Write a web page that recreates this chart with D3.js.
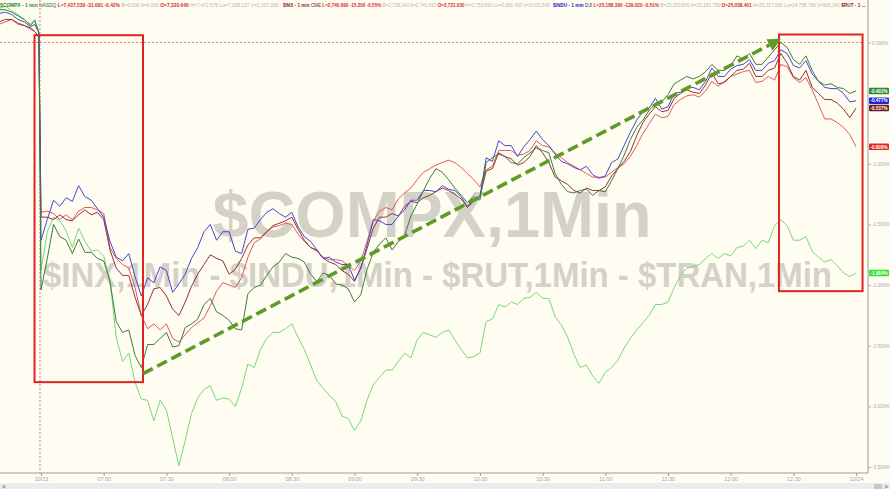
<!DOCTYPE html>
<html><head><meta charset="utf-8">
<script src="https://cdn.jsdelivr.net/npm/d3@7"></script>
<style>
html,body{margin:0;padding:0;background:#fffcf2;}
svg{display:block;font-family:"Liberation Sans",Arial,sans-serif;}
</style></head><body>
<svg id="c" width="890" height="489"></svg>
<script>
// ---- time axis (minutes from the 06:30 open; negatives = prior session's last minutes)
const prevMinutes = [-20,-17,-14,-11,-8,-5,-3,-1];
const sessionMinutes = d3.range(0, 391, 3); // one sample every 3 minutes, 06:30 .. 13:00

// ---- % change vs previous close
const compxPrev = [0.27,0.27,0.25,0.22,0.19,0.14,0.18,0.08];
const induPrev  = [0.24,0.25,0.23,0.19,0.17,0.13,0.15,0.08];
const inxPrev   = [0.17,0.19,0.19,0.16,0.14,0.12,0.09,0.05];
const tranPrev  = [0.15,0.17,0.19,0.15,0.14,0.11,0.09,0.05];
const rutPrev   = [0.28,0.30,0.26,0.23,0.19,0.15,0.19,0.09];

const compx = [-2.04,-1.78,-1.50,-1.60,-1.63,-1.74,-1.62,-1.73,-1.73,-1.78,
 -1.80,-1.97,-2.30,-2.39,-2.37,-2.58,-2.68,-2.49,-2.49,-2.44,
 -2.39,-2.51,-2.50,-2.35,-2.32,-2.28,-2.16,-2.11,-2.22,-2.25,
 -2.29,-2.36,-2.37,-2.07,-2.02,-2.00,-1.92,-1.85,-1.81,-1.74,
 -1.77,-1.78,-1.81,-1.91,-1.97,-1.90,-1.92,-1.99,-2.00,-2.03,
 -2.14,-2.08,-1.87,-1.73,-1.66,-1.61,-1.71,-1.64,-1.59,-1.43,
 -1.33,-1.22,-1.12,-1.04,-1.07,-1.13,-1.20,-1.26,-1.32,-1.27,
 -1.30,-0.99,-0.95,-0.92,-0.94,-0.99,-1.00,-0.95,-0.91,-0.87,
 -0.89,-0.91,-1.08,-1.17,-1.23,-1.24,-1.22,-1.21,-1.26,-1.22,
 -1.23,-1.14,-1.04,-0.93,-0.80,-0.70,-0.64,-0.56,-0.50,-0.49,
 -0.43,-0.34,-0.31,-0.28,-0.30,-0.28,-0.24,-0.18,-0.23,-0.23,
 -0.19,-0.11,-0.14,-0.09,-0.18,-0.18,-0.12,-0.06,0.00,-0.04,
 -0.14,-0.18,-0.11,-0.23,-0.32,-0.35,-0.34,-0.37,-0.38,-0.42,
 -0.40];

const indu = [-1.63,-1.46,-1.30,-1.35,-1.28,-1.31,-1.18,-1.27,-1.30,-1.37,
 -1.44,-1.64,-1.77,-1.80,-1.74,-1.93,-2.09,-1.94,-1.98,-1.85,
 -1.88,-2.06,-1.99,-1.91,-1.78,-1.69,-1.56,-1.50,-1.63,-1.56,
 -1.56,-1.72,-1.74,-1.54,-1.53,-1.46,-1.40,-1.37,-1.41,-1.44,
 -1.40,-1.52,-1.60,-1.64,-1.71,-1.78,-1.77,-1.81,-1.83,-1.83,
 -1.96,-1.86,-1.67,-1.46,-1.47,-1.50,-1.50,-1.43,-1.38,-1.30,
 -1.30,-1.22,-1.22,-1.23,-1.18,-1.21,-1.22,-1.27,-1.35,-1.30,
 -1.27,-0.95,-0.98,-0.81,-0.85,-0.85,-0.94,-0.86,-0.80,-0.73,
 -0.80,-0.85,-0.92,-0.98,-1.00,-1.03,-1.05,-1.02,-1.09,-1.12,
 -1.10,-0.99,-0.96,-0.85,-0.74,-0.64,-0.57,-0.54,-0.46,-0.55,
 -0.53,-0.42,-0.41,-0.37,-0.37,-0.39,-0.32,-0.21,-0.28,-0.28,
 -0.22,-0.19,-0.18,-0.14,-0.23,-0.23,-0.17,-0.15,-0.06,-0.09,
 -0.19,-0.21,-0.15,-0.26,-0.32,-0.37,-0.38,-0.38,-0.42,-0.49,
 -0.48];

const inx = [-1.44,-1.44,-1.46,-1.42,-1.46,-1.47,-1.42,-1.38,-1.42,-1.40,
 -1.46,-1.71,-1.86,-1.92,-1.92,-2.10,-2.25,-2.16,-2.03,-2.02,
 -2.09,-2.20,-2.25,-2.14,-2.01,-1.91,-1.83,-1.75,-1.78,-1.80,
 -1.91,-1.87,-1.78,-1.67,-1.61,-1.61,-1.56,-1.51,-1.49,-1.47,
 -1.44,-1.54,-1.63,-1.69,-1.71,-1.78,-1.81,-1.83,-1.88,-1.91,
 -1.97,-1.86,-1.70,-1.53,-1.44,-1.44,-1.41,-1.43,-1.35,-1.31,
 -1.32,-1.28,-1.26,-1.23,-1.20,-1.22,-1.25,-1.29,-1.36,-1.31,
 -1.27,-1.06,-1.04,-0.91,-0.94,-0.96,-1.01,-0.99,-0.94,-0.85,
 -0.91,-0.99,-1.11,-1.14,-1.17,-1.22,-1.24,-1.20,-1.22,-1.22,
 -1.19,-1.10,-1.04,-0.98,-0.90,-0.77,-0.66,-0.59,-0.53,-0.57,
 -0.56,-0.46,-0.42,-0.39,-0.41,-0.42,-0.35,-0.25,-0.34,-0.33,
 -0.28,-0.23,-0.22,-0.17,-0.28,-0.28,-0.23,-0.21,-0.09,-0.17,
 -0.28,-0.31,-0.23,-0.37,-0.42,-0.47,-0.47,-0.50,-0.55,-0.62,
 -0.54];

const tran = [-1.40,-1.39,-1.41,-1.46,-1.42,-1.46,-1.39,-1.36,-1.36,-1.38,
 -1.41,-1.69,-1.78,-1.83,-1.86,-2.02,-2.25,-2.36,-2.32,-2.37,
 -2.32,-2.44,-2.47,-2.41,-2.35,-2.31,-2.27,-2.17,-2.05,-1.98,
 -2.00,-2.02,-1.94,-1.77,-1.65,-1.62,-1.56,-1.52,-1.51,-1.49,
 -1.50,-1.58,-1.64,-1.69,-1.72,-1.77,-1.79,-1.79,-1.80,-1.84,
 -1.88,-1.80,-1.64,-1.47,-1.39,-1.36,-1.38,-1.29,-1.24,-1.20,
 -1.13,-1.07,-1.04,-1.01,-0.99,-0.97,-0.99,-1.03,-1.08,-1.13,
 -1.19,-1.05,-1.02,-0.89,-0.89,-0.89,-0.93,-0.92,-0.89,-0.81,
 -0.85,-0.86,-0.91,-0.95,-0.99,-1.02,-1.05,-1.08,-1.11,-1.11,
 -1.11,-1.07,-1.03,-1.00,-0.94,-0.85,-0.75,-0.67,-0.59,-0.62,
 -0.61,-0.51,-0.47,-0.44,-0.43,-0.45,-0.40,-0.32,-0.36,-0.32,
 -0.28,-0.26,-0.24,-0.23,-0.33,-0.32,-0.28,-0.31,-0.18,-0.20,
 -0.29,-0.33,-0.29,-0.39,-0.51,-0.63,-0.63,-0.66,-0.70,-0.76,
 -0.86];

const rut = [-1.88,-1.56,-1.44,-1.47,-1.55,-1.69,-1.53,-1.64,-1.72,-1.71,
 -1.76,-1.96,-2.43,-2.63,-2.56,-2.80,-2.94,-2.95,-3.12,-2.95,
 -3.03,-3.26,-3.49,-3.28,-3.06,-2.93,-2.86,-2.83,-2.95,-2.93,
 -2.94,-3.00,-2.85,-2.65,-2.68,-2.53,-2.44,-2.39,-2.39,-2.36,
 -2.32,-2.43,-2.53,-2.66,-2.79,-2.85,-2.91,-2.96,-3.08,-3.10,
 -3.20,-3.12,-2.95,-2.82,-2.76,-2.70,-2.70,-2.63,-2.56,-2.60,
 -2.45,-2.39,-2.41,-2.43,-2.39,-2.37,-2.45,-2.53,-2.60,-2.59,
 -2.56,-2.30,-2.28,-2.16,-2.18,-2.14,-2.16,-2.11,-2.10,-2.06,
 -2.11,-2.11,-2.26,-2.33,-2.43,-2.57,-2.68,-2.66,-2.75,-2.81,
 -2.72,-2.68,-2.62,-2.52,-2.44,-2.37,-2.31,-2.25,-2.16,-2.16,
 -2.14,-2.02,-1.92,-1.86,-1.85,-1.83,-1.78,-1.74,-1.78,-1.74,
 -1.76,-1.69,-1.68,-1.63,-1.70,-1.63,-1.65,-1.51,-1.46,-1.51,
 -1.63,-1.63,-1.60,-1.72,-1.77,-1.81,-1.79,-1.84,-1.90,-1.93,
 -1.90];

// ---- last-value tags (as printed on the chart)
const lastLabels = ["-1.984%","-0.808%","-0.537%","-0.477%","-0.402%"];

// ---- axis ticks (the -0.500% label is hidden under the value tags in the original)
const xTickMinutes = [0,30,60,90,120,150,180,210,240,270,300,330,360,390];
const xTickLabels = ["10/23","07:00","07:30","08:00","08:30","09:00","09:30","10:00","10:30","11:00","11:30","12:00","12:30","10/24"];
const yTicks = [0,-1,-1.5,-2,-2.5,-3,-3.5];

// ---- annotations (data coordinates: minutes, %)
const leftBox  = {m0:-3.1, m1:48.8, v0:0.06, v1:-2.80};
const rightBox = {m0:353.1, m1:393.1, v0:0.066, v1:-2.05};
const trendArrow = {m0:48.8, v0:-2.73, m1:354.1, v1:0.03};

// ---- header
const headerGroups = [
 [["$COMPX - 1 min ","#1f8f1f",700],["NASDQ ","#3d5a3d",400],["L=7,437.539 -31.091 -0.42% ","#d42b2b",700],["B=0.000 A=0.000 ","#b5b5b5",400],["O=7,320.640 ","#d42b2b",700],["H=7,472.576 Lo=7,268.137 V=2,037,000","#b5b5b5",400]],
 [["$INX - 1 min ","#8a1f1f",700],["CME ","#5a3030",400],["L=2,740.690 -15.200 -0.55% ","#d42b2b",700],["B=2,739.140 A=2,741.610 ","#b5b5b5",400],["O=2,721.030 ","#d42b2b",700],["H=2,753.590 Lo=2,691.430 V=3,000,542","#b5b5b5",400]],
 [["$INDU - 1 min ","#2525c8",700],["DJI ","#30305a",400],["L=25,188.390 -129.020 -0.51% ","#d42b2b",700],["B=25,193.870 A=25,191.790 ","#b5b5b5",400],["O=25,038.401 ","#d42b2b",700],["H=25,327.000 Lo=24,758.789 V=905,341 ","#b5b5b5",400],["$RUT - 1 ...","#8a1f1f",700]]
];

const series = [
 {prev:rutPrev,   vals:rut,   color:"#74dc74", tag:"#35e035", label:lastLabels[0]},
 {prev:tranPrev,  vals:tran,  color:"#e35a5a", tag:"#e32626", label:lastLabels[1]},
 {prev:inxPrev,   vals:inx,   color:"#8e3535", tag:"#6e1c1c", label:lastLabels[2]},
 {prev:induPrev,  vals:indu,  color:"#4646d2", tag:"#2323d6", label:lastLabels[3]},
 {prev:compxPrev, vals:compx, color:"#3c7d3c", tag:"#2f8a2f", label:lastLabels[4]}
];

const W = 890, H = 489, plotR = 868, plotB = 473;
const svg = d3.select("#c");
const x = d3.scaleLinear().domain([-19.62, 395.7]).range([0, plotR]);
const y = d3.scaleLinear().domain([0.3504, -3.549]).range([0, plotB]);

svg.append("rect").attr("width",W).attr("height",H).attr("fill","#fffcf2");

// watermark
svg.append("text").attr("x",432).attr("y",237).attr("text-anchor","middle")
  .attr("font-size",64).attr("font-weight",700).attr("fill","#d4d1c7")
  .attr("textLength",439).attr("lengthAdjust","spacingAndGlyphs").text("$COMPX,1Min");
svg.append("text").attr("x",437.5).attr("y",287).attr("text-anchor","middle")
  .attr("font-size",35).attr("font-weight",700).attr("fill","#d4d1c7")
  .attr("textLength",789).attr("lengthAdjust","spacingAndGlyphs")
  .text("$INX,1Min - $INDU,1Min - $RUT,1Min - $TRAN,1Min");

// reference lines
svg.append("line").attr("x1",0).attr("x2",plotR-4).attr("y1",y(0)).attr("y2",y(0))
  .attr("stroke","#e47a7a").attr("stroke-width",1).attr("stroke-dasharray","2,2");
svg.append("line").attr("x1",x(-0.5)).attr("x2",x(-0.5)).attr("y1",0).attr("y2",plotB)
  .attr("stroke","#c98080").attr("stroke-width",1).attr("stroke-dasharray","2,2");

// series
const line = d3.line().x(d=>x(d.m)).y(d=>y(d.v));
series.forEach(s=>{
  const pts = prevMinutes.map((m,i)=>({m, v:s.prev[i]}))
    .concat(sessionMinutes.map((m,i)=>({m, v:s.vals[i]})));
  svg.append("path").datum(pts).attr("d",line).attr("fill","none")
    .attr("stroke",s.color).attr("stroke-width",1).attr("stroke-linejoin","round");
});

// red boxes
[leftBox,rightBox].forEach(b=>{
  svg.append("rect").attr("x",x(b.m0)).attr("y",y(b.v0))
    .attr("width",x(b.m1)-x(b.m0)).attr("height",y(b.v1)-y(b.v0))
    .attr("fill","none").attr("stroke","#e02323").attr("stroke-width",2);
});

// dashed trend arrow
{
  const ax0=x(trendArrow.m0), ay0=y(trendArrow.v0), ax1=x(trendArrow.m1), ay1=y(trendArrow.v1);
  const dx=ax1-ax0, dy=ay1-ay0, L=Math.hypot(dx,dy), ux=dx/L, uy=dy/L;
  const head=13, hw=6.5;
  const bx=ax1-ux*head, by=ay1-uy*head;
  svg.append("line").attr("x1",ax0).attr("y1",ay0).attr("x2",bx).attr("y2",by)
    .attr("stroke","#5f9a26").attr("stroke-width",3.6).attr("stroke-dasharray","11,5");
  svg.append("polygon").attr("points",[[ax1,ay1],[bx-uy*hw,by+ux*hw],[bx+uy*hw,by-ux*hw]].map(p=>p.join(",")).join(" "))
    .attr("fill","#5f9a26");
}

// axes
const fmt = v => (v<0?"-":"") + Math.abs(v).toFixed(3) + "%";
const yAxis = svg.append("g").attr("transform",`translate(${plotR},0)`)
  .call(d3.axisRight(y).tickValues(yTicks).tickFormat(fmt).tickSize(3).tickSizeOuter(0));
yAxis.select(".domain").attr("stroke","#9a9a9a").attr("d",`M0,0V${plotB}`);
yAxis.selectAll(".tick line").attr("stroke","#b0b0b0");
yAxis.selectAll(".tick text").attr("fill","#ababab").attr("font-size",4.7).attr("x",4);

const xAxis = svg.append("g").attr("transform",`translate(0,${plotB})`)
  .call(d3.axisBottom(x).tickValues(xTickMinutes).tickFormat((d,i)=>xTickLabels[i]).tickSize(3).tickSizeOuter(0));
xAxis.select(".domain").attr("stroke","#9a9a9a").attr("d",`M0,0H${plotR}`);
xAxis.selectAll(".tick line").attr("stroke","#9a9a9a");
xAxis.selectAll(".tick text").attr("fill","#a5a5a5").attr("font-size",5.5).attr("y",4);

// last value tags
series.forEach(s=>{
  const yy = y(s.vals[s.vals.length-1]);
  svg.append("rect").attr("x",plotR+1).attr("y",yy-3.2).attr("width",20).attr("height",6.4)
    .attr("rx",1).attr("fill",s.tag);
  svg.append("text").attr("x",plotR+11).attr("y",yy+1.7).attr("text-anchor","middle")
    .attr("font-size",4.6).attr("font-weight",700).attr("fill","#ffffff").text(s.label);
});

// header: each group sized so its natural width fits its slot
const hdrX = [[0,279],[283,551],[553,866]];
headerGroups.forEach((g,gi)=>{
  const t = svg.append("text").attr("x",hdrX[gi][0]).attr("y",7).attr("font-size",6);
  g.forEach(([txt,col,fw])=>t.append("tspan").attr("fill",col).attr("font-weight",fw).text(txt));
  const w = t.node().getComputedTextLength();
  t.attr("font-size", 6 * (hdrX[gi][1]-hdrX[gi][0]) / w);
});

// bottom scroll band
svg.append("rect").attr("x",0).attr("y",483).attr("width",W).attr("height",6).attr("fill","#ececec");
svg.append("text").attr("x",2).attr("y",489).attr("font-size",7).attr("fill","#555").text("<");
svg.append("rect").attr("x",874).attr("y",484).attr("width",8).attr("height",5).attr("fill","#c8c8c8");
svg.append("text").attr("x",884).attr("y",489).attr("font-size",7).attr("fill","#555").text(">");
</script>
</body></html>
